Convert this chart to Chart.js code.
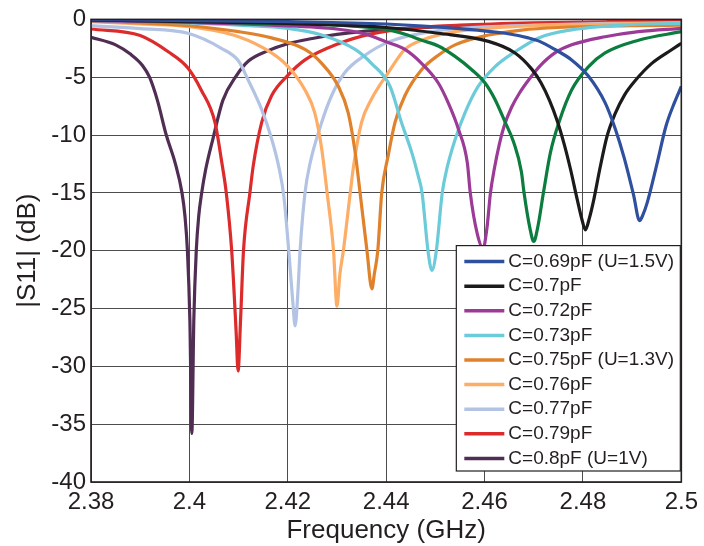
<!DOCTYPE html>
<html>
<head>
<meta charset="utf-8">
<script src="https://cdn.jsdelivr.net/npm/chart.js@4.4.1/dist/chart.umd.min.js"></script>
<style>
  html, body { margin: 0; padding: 0; background: #fff; }
</style>
</head>
<body>
<canvas id="grafico" width="704" height="546"></canvas>
<script>
// x ticks (GHz) and y ticks (dB)
const xTicks = [2.38, 2.4, 2.42, 2.44, 2.46, 2.48, 2.5];
const yTicks = [0, -5, -10, -15, -20, -25, -30, -35, -40];

// C = 0.69 pF (U = 1.5 V)
const f069 = [2.38, 2.40, 2.42, 2.44, 2.455, 2.4642, 2.4689, 2.4712, 2.4743, 2.4777, 2.4811, 2.4845, 2.4866, 2.4884, 2.4903, 2.4915, 2.4921, 2.4931, 2.4951, 2.4969, 2.4986, 2.5];
const s069 = [0, -0.1, -0.2, -0.4, -0.8, -1.2, -1.6, -1.9, -2.6, -3.5, -4.9, -7.2, -9.5, -12.0, -15.2, -17.4, -17.0, -15.8, -12.4, -9.2, -7.2, -5.8];

// C = 0.7 pF
const f070 = [2.38, 2.40, 2.42, 2.44, 2.4506, 2.4608, 2.4662, 2.4696, 2.4715, 2.4732, 2.4748, 2.4762, 2.4775, 2.4788, 2.4798, 2.4805, 2.4813, 2.4822, 2.4834, 2.4849, 2.4865, 2.4885, 2.4906, 2.494, 2.4981, 2.5];
const s070 = [-0.05, -0.2, -0.35, -0.7, -1.2, -1.9, -2.9, -4.3, -5.5, -7.0, -8.8, -10.8, -13.0, -15.5, -17.3, -18.2, -17.2, -15.6, -13.0, -10.1, -8.2, -6.5, -5.3, -3.8, -2.6, -2.06];

// green curve (not listed in the legend)
const f071 = [2.38, 2.40, 2.41, 2.4303, 2.4404, 2.444, 2.4472, 2.4506, 2.454, 2.4574, 2.4601, 2.4621, 2.4642, 2.4659, 2.4675, 2.468, 2.4692, 2.47, 2.4708, 2.472, 2.4734, 2.4752, 2.4777, 2.4811, 2.4845, 2.4913, 2.5];
const s071 = [-0.05, -0.15, -0.3, -0.5, -0.9, -1.3, -1.8, -2.3, -3.2, -4.35, -5.5, -6.9, -8.9, -10.6, -13.2, -14.9, -18.0, -19.2, -18.0, -14.9, -11.5, -8.8, -6.1, -4.1, -2.9, -1.8, -1.06];

// C = 0.72 pF
const f072 = [2.38, 2.40, 2.4167, 2.4303, 2.436, 2.4404, 2.4438, 2.4472, 2.4506, 2.4526, 2.4547, 2.4565, 2.4571, 2.4585, 2.4597, 2.4605, 2.4612, 2.462, 2.463, 2.464, 2.4655, 2.4672, 2.4692, 2.4711, 2.4743, 2.4777, 2.4845, 2.4913, 2.5];
const s072 = [-0.1, -0.25, -0.5, -0.85, -1.3, -2.0, -2.6, -3.8, -5.5, -7.2, -9.5, -12.4, -15.0, -18.5, -19.8, -18.0, -15.0, -12.9, -10.8, -9.2, -7.6, -6.3, -5.1, -4.1, -2.9, -2.2, -1.5, -1.06, -0.77];

// C = 0.73 pF
const f073 = [2.38, 2.39, 2.40, 2.41, 2.42, 2.4269, 2.4337, 2.437, 2.4408, 2.4431, 2.4452, 2.4465, 2.4473, 2.4485, 2.4493, 2.4502, 2.4514, 2.4524, 2.454, 2.456, 2.4587, 2.4621, 2.4662, 2.471, 2.4777, 2.4879, 2.5];
const s073 = [-0.1, -0.2, -0.3, -0.5, -0.77, -1.35, -2.6, -3.8, -5.8, -8.9, -11.5, -13.5, -15.0, -20.0, -21.7, -20.0, -15.0, -12.8, -10.4, -8.1, -5.8, -4.1, -2.8, -1.6, -0.9, -0.49, -0.34];

// C = 0.75 pF (U = 1.3 V)
const f075 = [2.38, 2.39, 2.40, 2.41, 2.4167, 2.4235, 2.4269, 2.4303, 2.4323, 2.4337, 2.4347, 2.4361, 2.4371, 2.4376, 2.4383, 2.4391, 2.4404, 2.4418, 2.4438, 2.4472, 2.4506, 2.454, 2.4608, 2.4675, 2.475, 2.49, 2.5];
const s075 = [-0.15, -0.3, -0.55, -1.06, -1.6, -2.6, -3.8, -5.8, -8.1, -11.5, -15.0, -20.0, -23.3, -22.0, -20.0, -15.0, -11.8, -8.9, -6.6, -4.35, -3.1, -2.2, -1.35, -0.92, -0.7, -0.55, -0.5];

// C = 0.76 pF
const f076 = [2.38, 2.39, 2.40, 2.41, 2.4167, 2.4201, 2.4235, 2.4255, 2.4269, 2.428, 2.4293, 2.43, 2.4306, 2.4313, 2.4327, 2.4334, 2.435, 2.437, 2.4406, 2.4438, 2.4472, 2.454, 2.4608, 2.47, 2.485, 2.5];
const s076 = [-0.2, -0.4, -0.63, -1.5, -2.9, -4.1, -6.1, -8.1, -11.2, -15.0, -20.0, -24.8, -22.0, -20.0, -15.0, -12.6, -8.9, -6.9, -4.5, -2.6, -1.8, -1.06, -0.77, -0.55, -0.4, -0.3];

// C = 0.77 pF
const f077 = [2.38, 2.39, 2.3997, 2.4065, 2.41, 2.4119, 2.4147, 2.4167, 2.4182, 2.4192, 2.4202, 2.421, 2.4215, 2.422, 2.4225, 2.4235, 2.4245, 2.4269, 2.4289, 2.4316, 2.4357, 2.4408, 2.45, 2.46, 2.47, 2.485, 2.5];
const s077 = [-0.54, -0.8, -1.2, -2.5, -3.6, -5.2, -7.8, -10.3, -12.8, -15.3, -20.0, -24.3, -26.5, -24.0, -20.0, -15.0, -12.5, -8.9, -6.6, -4.6, -3.1, -1.9, -1.0, -0.65, -0.5, -0.35, -0.3];

// C = 0.79 pF
const f079 = [2.38, 2.39, 2.3957, 2.3997, 2.4024, 2.4052, 2.4066, 2.4075, 2.4086, 2.4095, 2.4099, 2.4104, 2.411, 2.4123, 2.413, 2.4147, 2.4167, 2.4201, 2.4235, 2.4303, 2.437, 2.445, 2.455, 2.47, 2.485, 2.5];
const s079 = [-0.83, -1.4, -2.8, -4.2, -6.1, -8.9, -12.4, -15.0, -20.0, -27.0, -30.4, -26.0, -20.0, -15.0, -12.6, -8.9, -6.6, -4.8, -3.5, -2.1, -1.25, -0.75, -0.5, -0.3, -0.2, -0.15];

// C = 0.8 pF (U = 1 V)
const f080 = [2.38, 2.385, 2.388, 2.3905, 2.3919, 2.3935, 2.3953, 2.3971, 2.3985, 2.3991, 2.3996, 2.4001, 2.4005, 2.4009, 2.4014, 2.4019, 2.4025, 2.4033, 2.4048, 2.4068, 2.4095, 2.412, 2.416, 2.42, 2.425, 2.43, 2.435, 2.44, 2.45, 2.46, 2.47, 2.48, 2.49, 2.5];
const s080 = [-1.55, -2.2, -3.0, -4.0, -5.0, -7.0, -10.0, -12.4, -15.0, -17.0, -20.0, -26.0, -35.8, -26.0, -20.0, -17.0, -15.0, -13.0, -10.3, -7.0, -4.9, -3.6, -2.7, -2.1, -1.65, -1.3, -1.05, -0.9, -0.65, -0.5, -0.4, -0.3, -0.25, -0.2];

const fonte = "'Liberation Sans', Arial, sans-serif";
const corTexto = "#231f20";

function pontos(freq, s11) {
  return freq.map((f, i) => ({ x: f, y: s11[i] }));
}

function serie(label, freq, s11, cor, noLegend) {
  return {
    label: label,
    data: pontos(freq, s11),
    borderColor: cor,
    backgroundColor: cor,
    borderWidth: 3.2,
    pointRadius: 0,
    cubicInterpolationMode: "monotone",
    noLegend: !!noLegend
  };
}

const datasets = [
  serie("C=0.69pF (U=1.5V)", f069, s069, "#2f4f9f"),
  serie("C=0.7pF", f070, s070, "#1c1a1b"),
  serie("C=0.71pF", f071, s071, "#0b7d3e", true),
  serie("C=0.72pF", f072, s072, "#9c3b97"),
  serie("C=0.73pF", f073, s073, "#6ccbd9"),
  serie("C=0.75pF (U=1.3V)", f075, s075, "#e0812b"),
  serie("C=0.76pF", f076, s076, "#fdad66"),
  serie("C=0.77pF", f077, s077, "#b3c3e4"),
  serie("C=0.79pF", f079, s079, "#dd2a2b"),
  serie("C=0.8pF (U=1V)", f080, s080, "#502e54")
];

// moldura + legenda dentro do grafico
const moldura = {
  id: "moldura",
  afterDatasetsDraw(chart) {
    const { ctx, chartArea: a } = chart;
    ctx.save();
    ctx.strokeStyle = "#231f20";
    ctx.lineWidth = 1.6;
    ctx.strokeRect(a.left, a.top, a.right - a.left, a.bottom - a.top);
    ctx.restore();
  },
  afterDraw(chart) {
    const { ctx, chartArea: a } = chart;
    const itens = chart.data.datasets.filter(d => !d.noLegend);
    const w = 224, rowH = 24.6;
    const h = itens.length * rowH + 4;
    const x0 = a.right - w - 1;
    const y0 = a.bottom - h - 11;
    ctx.save();
    ctx.fillStyle = "#fff";
    ctx.fillRect(x0, y0, w, h);
    ctx.strokeStyle = "#231f20";
    ctx.lineWidth = 1.2;
    ctx.strokeRect(x0, y0, w, h);
    ctx.font = "19px " + fonte;
    ctx.textBaseline = "middle";
    ctx.fillStyle = corTexto;
    itens.forEach((d, i) => {
      const y = y0 + 16 + i * rowH;
      ctx.strokeStyle = d.borderColor;
      ctx.lineWidth = 3.5;
      ctx.beginPath();
      ctx.moveTo(x0 + 8, y);
      ctx.lineTo(x0 + 48, y);
      ctx.stroke();
      ctx.fillText(d.label, x0 + 52, y);
    });
    ctx.restore();
  }
};

new Chart(document.getElementById("grafico"), {
  type: "line",
  data: { datasets: datasets },
  plugins: [moldura],
  options: {
    responsive: false,
    animation: false,
    layout: { padding: { left: 0, top: 16, right: 22, bottom: 0 } },
    plugins: {
      legend: { display: false },
      tooltip: { enabled: false }
    },
    scales: {
      x: {
        type: "linear",
        min: 2.38,
        max: 2.5,
        afterBuildTicks: s => { s.ticks = xTicks.map(v => ({ value: v })); },
        afterFit: s => { s.height = 64; },
        ticks: {
          callback: v => String(v),
          color: corTexto,
          font: { family: fonte, size: 24 },
          padding: 6,
          maxRotation: 0
        },
        grid: { color: "#4d4d4d", lineWidth: 1, drawTicks: false },
        border: { display: false },
        title: {
          display: true,
          text: "Frequency (GHz)",
          color: corTexto,
          font: { family: fonte, size: 26 },
          padding: { top: 3, bottom: 0 }
        }
      },
      y: {
        min: -40,
        max: 0,
        afterBuildTicks: s => { s.ticks = yTicks.map(v => ({ value: v })); },
        afterFit: s => { s.width = 91; },
        ticks: {
          color: corTexto,
          font: { family: fonte, size: 24 },
          padding: 5
        },
        grid: { color: "#4d4d4d", lineWidth: 1, drawTicks: false },
        border: { display: false },
        title: {
          display: true,
          text: "|S11| (dB)",
          color: corTexto,
          font: { family: fonte, size: 26 },
          padding: { top: 12, bottom: 0 }
        }
      }
    }
  }
});
</script>
</body>
</html>
